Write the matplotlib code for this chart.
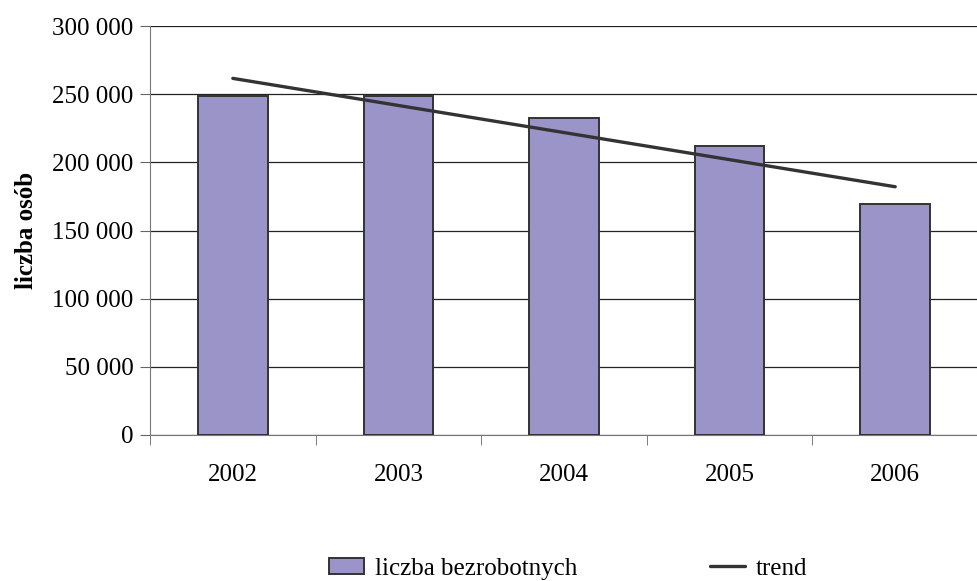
import numpy as np
import matplotlib
matplotlib.use("Agg")
import matplotlib.pyplot as plt
from matplotlib.ticker import FuncFormatter

years = ["2002", "2003", "2004", "2005", "2006"]
bezrobotni = [248600, 248700, 232300, 212200, 169400]
trend_ends = [261600, 182100]  # trend line at 2002 and 2006

plt.rcParams["font.family"] = ["Liberation Serif", "DejaVu Serif"]
plt.rcParams["font.size"] = 18

fig = plt.figure(figsize=(9.78, 5.81), dpi=100)
ax = fig.add_axes([0.1534, 0.2513, 0.8466, 0.7039])

x = np.arange(len(years))
bars = ax.bar(x, bezrobotni, width=0.42, color="#9b94c8", edgecolor="#333333",
              linewidth=1.4, zorder=3, label="liczba bezrobotnych")
line, = ax.plot([x[0], x[-1]], trend_ends, color="#333333", linewidth=2.4,
                solid_capstyle="round", zorder=4, label="trend")

ax.set_xlim(-0.5, len(years) - 0.5)
ax.set_ylim(0, 300000)
ax.set_yticks(np.arange(0, 300001, 50000))
ax.yaxis.set_major_formatter(FuncFormatter(lambda v, p: f"{int(v):,}".replace(",", " ")))
ax.grid(axis="y", color="#222222", linewidth=0.9, zorder=0)

ax.set_xticks(x)
ax.set_xticklabels(years)
ax.set_xticks(np.arange(-0.5, len(years)), minor=True)
ax.tick_params(axis="x", which="major", length=0, pad=21)
ax.tick_params(axis="x", which="minor", length=7, color="#666666")
ax.tick_params(axis="y", length=7, color="#666666", pad=5)

for s in ["top", "right"]:
    ax.spines[s].set_visible(False)
for s in ["left", "bottom"]:
    ax.spines[s].set_color("#777777")

ax.set_ylabel("liczba osób", fontweight="bold", labelpad=10)

fig.legend([bars, line], ["liczba bezrobotnych", "trend"], loc="center",
           bbox_to_anchor=(0.581, 0.021), ncol=2, frameon=False,
           handlelength=1.4, handletextpad=0.45, columnspacing=5.3,
           handleheight=0.6)

fig.savefig("out.png", dpi=100)
